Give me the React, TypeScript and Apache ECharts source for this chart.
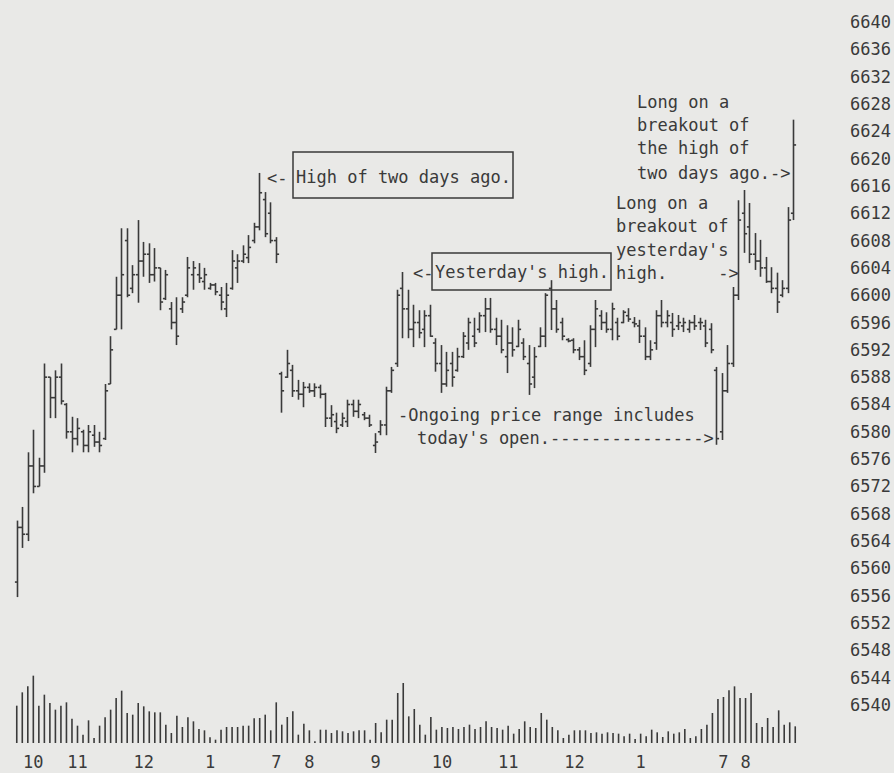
import React, { useEffect, useRef } from "react";
import * as echarts from "echarts";

// Five-minute bars, three sessions (day 1 partial, day 2, day 3 partial)
const highs = [
  6567.0, 6569.0, 6577.0, 6580.3, 6576.2, 6590.0, 6588.0, 6589.0, 6590.0, 6584.2,
  6582.2, 6582.0, 6580.3, 6581.0, 6581.0, 6580.0, 6587.0, 6594.0, 6602.7, 6609.8,
  6609.8, 6604.4, 6611.0, 6607.8, 6607.6, 6606.9, 6604.0, 6603.7, 6599.0, 6599.7,
  6599.7, 6605.6, 6605.0, 6604.7, 6604.0, 6601.8, 6601.8, 6601.2, 6601.8, 6606.6,
  6606.0, 6607.3, 6608.8, 6610.6, 6617.9, 6615.1, 6613.6, 6608.5,
  6588.8, 6592.0, 6589.8, 6587.6, 6587.3, 6587.1, 6587.1, 6586.9, 6585.7, 6583.9,
  6582.8, 6582.8, 6584.7, 6584.7, 6584.7, 6582.9, 6582.5, 6579.8, 6581.7, 6586.6,
  6589.5, 6600.8, 6603.4, 6600.8, 6598.6, 6597.8, 6597.8, 6598.6, 6593.7, 6592.7,
  6591.7, 6591.7, 6592.3, 6594.6, 6596.7, 6596.7, 6597.5, 6599.6, 6599.6, 6596.7,
  6596.4, 6595.6, 6595.3, 6596.4, 6593.7, 6592.7, 6592.4, 6595.3, 6600.3, 6602.2,
  6599.3, 6596.7, 6593.7, 6593.7, 6592.4, 6593.4, 6595.6, 6599.3, 6597.8, 6597.5,
  6598.9, 6596.7, 6597.8, 6598.1, 6596.8, 6596.4, 6595.3, 6593.4, 6597.8, 6599.3,
  6597.8, 6597.4, 6597.1, 6596.7, 6596.4, 6597.1, 6596.7, 6596.4, 6595.9,
  6589.5, 6588.6, 6592.7, 6601.2, 6613.9, 6615.4, 6613.5, 6609.1, 6608.1, 6605.6,
  6604.1, 6603.3, 6602.2, 6612.9, 6625.7,
];

const lows = [
  6555.8, 6563.0, 6564.0, 6571.0, 6572.0, 6574.0, 6582.0, 6582.0, 6584.0, 6579.0,
  6577.0, 6578.0, 6577.0, 6577.0, 6577.8, 6577.0, 6578.8, 6587.0, 6595.0, 6595.0,
  6599.7, 6600.3, 6598.9, 6602.7, 6601.8, 6602.0, 6597.8, 6599.3, 6595.0, 6592.7,
  6597.4, 6599.7, 6600.8, 6601.8, 6600.8, 6600.8, 6600.0, 6597.8, 6596.8, 6600.8,
  6601.8, 6604.7, 6604.7, 6607.6, 6609.5, 6608.5, 6607.6, 6604.7,
  6582.8, 6587.9, 6585.1, 6584.7, 6583.6, 6585.7, 6585.1, 6584.9, 6580.7, 6580.7,
  6579.8, 6580.7, 6580.7, 6582.2, 6582.0, 6581.7, 6580.7, 6576.9, 6579.5, 6579.5,
  6585.7, 6589.5, 6593.7, 6593.7, 6592.4, 6593.7, 6592.4, 6593.9, 6588.8, 6585.7,
  6586.6, 6586.6, 6588.8, 6590.8, 6592.0, 6592.4, 6594.5, 6594.6, 6594.5, 6592.7,
  6591.5, 6588.6, 6591.0, 6592.4, 6590.5, 6585.4, 6586.4, 6592.4, 6592.4, 6594.9,
  6594.5, 6593.4, 6593.1, 6591.5, 6590.5, 6588.3, 6589.5, 6592.4, 6594.9, 6594.5,
  6593.4, 6593.4, 6595.9, 6596.1, 6595.3, 6593.0, 6590.5, 6590.5, 6592.0, 6595.3,
  6595.3, 6593.9, 6594.9, 6594.6, 6594.5, 6594.9, 6594.9, 6592.4, 6591.5,
  6578.1, 6578.8, 6585.7, 6589.5, 6599.3, 6606.2, 6604.7, 6603.7, 6602.7, 6601.8,
  6600.3, 6597.4, 6599.7, 6600.3, 6611.0,
];

const opens = [
  6558, 6566, 6565, 6575, 6572, 6575, 6588, 6585, 6588, 6584,
  6580, 6579, 6580, 6578, 6579.5, 6578.5, 6579, 6587, 6595, 6600,
  6608, 6601, 6603, 6605, 6606, 6603, 6604, 6599.5, 6598, 6596,
  6598, 6600, 6603, 6603, 6602, 6601, 6601.5, 6600, 6598, 6601,
  6604, 6605, 6605.5, 6608, 6610, 6614, 6612, 6608,
  6588.5, 6588, 6589, 6586, 6585.5, 6586.5, 6586, 6586.5, 6585.5, 6582,
  6581.5, 6581, 6581.5, 6584, 6583, 6582.5, 6582, 6578, 6580, 6581,
  6586, 6590, 6601, 6598, 6595, 6596, 6595, 6597, 6593, 6590,
  6587, 6590, 6589, 6591, 6593, 6594, 6595, 6597, 6598, 6595,
  6594, 6591, 6593, 6592.5, 6593, 6590, 6588, 6592.5, 6594, 6601,
  6598, 6596, 6593.5, 6593.4, 6592, 6591, 6590, 6595, 6597, 6596,
  6595, 6596, 6596, 6597, 6596, 6595.5, 6594, 6591, 6593, 6597,
  6596, 6596, 6595.5, 6595.5, 6595, 6596, 6596, 6595.5, 6595,
  6589, 6580, 6586, 6590, 6600, 6612, 6610, 6606, 6605, 6604,
  6602, 6601, 6600, 6601, 6612,
];

const closes = [
  6566, 6565, 6575, 6572, 6575, 6588, 6585, 6588, 6584.5, 6580,
  6579, 6580.5, 6578, 6580, 6578.5, 6578, 6586, 6592, 6600, 6603,
  6600, 6603, 6605, 6606, 6603, 6604, 6599, 6603, 6596, 6594,
  6599, 6604, 6604, 6602.5, 6603, 6601.5, 6600.5, 6599, 6600, 6605,
  6605, 6606, 6607, 6610, 6615, 6609, 6608, 6606,
  6586, 6590, 6586, 6585.5, 6586.5, 6586, 6586.5, 6585.5, 6582, 6582.5,
  6580.5, 6582, 6584, 6583, 6584, 6582, 6581, 6578.5, 6581, 6586,
  6589, 6600, 6598, 6595, 6596, 6594.5, 6597, 6594, 6590, 6587,
  6589, 6588, 6591, 6594, 6596, 6593, 6597, 6598, 6595, 6594,
  6592, 6593, 6592, 6595, 6591, 6587, 6591, 6594, 6600, 6598,
  6595, 6594, 6593.3, 6592, 6591, 6589, 6595, 6598, 6596, 6595,
  6598, 6594, 6597.5, 6596.5, 6595.8, 6594, 6591, 6592, 6597, 6596,
  6597, 6595, 6596, 6596, 6596, 6595.5, 6596, 6593, 6592,
  6579, 6586, 6590, 6600, 6611, 6609, 6606, 6605, 6604, 6602,
  6601, 6599, 6601, 6611, 6622,
];

const volumes = [
  112, 152, 170, 202, 112, 145, 120, 100, 112, 122,
  73, 52, 25, 68, 15, 52, 77, 100, 135, 157,
  90, 85, 120, 110, 95, 92, 92, 55, 30, 82,
  48, 77, 65, 42, 38, 17, 10, 40, 48, 48,
  48, 52, 52, 74, 75, 85, 38, 122, 55, 78,
  95, 25, 58, 38, 5, 40, 40, 30, 38, 35,
  30, 35, 38, 38, 10, 60, 32, 70, 70, 150,
  180, 80, 102, 55, 25, 78, 40, 48, 45, 48,
  42, 48, 55, 42, 48, 65, 48, 45, 40, 52,
  28, 42, 65, 48, 45, 90, 70, 48, 38, 15,
  25, 38, 38, 38, 30, 32, 28, 32, 30, 28,
  20, 28, 12, 28, 20, 40, 32, 18, 35, 28,
  32, 42, 15, 20, 42, 55, 90, 132, 138, 158,
  170, 135, 135, 150, 60, 48, 75, 48, 98, 55,
  62, 50,
];

const hourTickIndex = [3, 11, 23, 35, 47, 53, 65, 77, 89, 101, 113, 128, 132];
const hourTickLabel = ["10", "11", "12", "1", "7", "8", "9", "10", "11", "12", "1", "7", "8"];

const priceMin = 6540;
const priceMax = 6640;
const priceStep = 4;

const FONT = '"DejaVu Sans Mono", "Liberation Mono", monospace';
const INK = "#3a3a3a";
const BG = "#e9e9e7";

export default function App() {
  const ref = useRef<HTMLDivElement>(null);

  useEffect(() => {
    if (!ref.current) return;
    const chart = echarts.init(ref.current, null, { renderer: "svg" });

    const categories = highs.map((_, i) => String(i));
    const ohlc = highs.map((h, i) => [i, opens[i], h, lows[i], closes[i]]);
    const tickMap: Record<number, string> = {};
    hourTickIndex.forEach((idx, k) => {
      tickMap[idx] = hourTickLabel[k];
    });

    const txt = (text: string, x: number, y: number) => ({
      type: "text",
      x,
      y,
      style: {
        text,
        font: `17px ${FONT}`,
        fill: INK,
        textAlign: "left",
        textVerticalAlign: "middle",
        align: "left",
        verticalAlign: "middle",
      },
      z: 10,
    });
    const box = (x: number, y: number, w: number, h: number) => ({
      type: "rect",
      shape: { x, y, width: w, height: h },
      style: { fill: "none", stroke: INK, lineWidth: 1.5 },
      z: 10,
    });

    chart.setOption({
      animation: false,
      backgroundColor: BG,
      grid: [
        { left: 14, width: 784, top: 22, height: 683 },
        { left: 14, width: 784, top: 673, height: 70 },
      ],
      xAxis: [
        {
          type: "category",
          gridIndex: 0,
          data: categories,
          boundaryGap: true,
          show: false,
        },
        {
          type: "category",
          gridIndex: 1,
          data: categories,
          boundaryGap: true,
          axisLine: { show: false },
          axisTick: { show: false },
          axisLabel: {
            interval: 0,
            margin: 10,
            fontFamily: FONT,
            fontSize: 17,
            color: INK,
            formatter: (_v: string, idx: number) => tickMap[idx] ?? "",
          },
        },
      ],
      yAxis: [
        {
          type: "value",
          gridIndex: 0,
          position: "right",
          min: priceMin,
          max: priceMax,
          interval: priceStep,
          axisLine: { show: false },
          axisTick: { show: false },
          splitLine: { show: false },
          axisLabel: {
            margin: 54,
            fontFamily: FONT,
            fontSize: 17,
            color: INK,
            formatter: (v: number) => String(v),
          },
        },
        {
          type: "value",
          gridIndex: 1,
          min: 0,
          max: 210,
          show: false,
          splitLine: { show: false },
        },
      ],
      series: [
        {
          type: "custom",
          xAxisIndex: 0,
          yAxisIndex: 0,
          data: ohlc,
          encode: { x: 0, y: [1, 2, 3, 4] },
          renderItem: (_params: any, api: any) => {
            const i = api.value(0);
            const o = api.coord([i, api.value(1)]);
            const h = api.coord([i, api.value(2)]);
            const l = api.coord([i, api.value(3)]);
            const c = api.coord([i, api.value(4)]);
            const x = Math.round(h[0]) + 0.5;
            const t = 2.6;
            const st = { stroke: INK, lineWidth: 1.6 };
            return {
              type: "group",
              children: [
                { type: "line", shape: { x1: x, y1: h[1], x2: x, y2: l[1] }, style: st },
                { type: "line", shape: { x1: x - t, y1: o[1], x2: x, y2: o[1] }, style: st },
                { type: "line", shape: { x1: x, y1: c[1], x2: x + t, y2: c[1] }, style: st },
              ],
            };
          },
        },
        {
          type: "bar",
          xAxisIndex: 1,
          yAxisIndex: 1,
          data: volumes,
          barWidth: 1.6,
          itemStyle: { color: INK },
        },
      ],
      graphic: [
        txt("<-", 267, 178),
        box(293, 152, 220, 46),
        txt("High of two days ago.", 296, 177),
        txt("<-", 413, 273),
        box(432, 253, 179, 37),
        txt("Yesterday's high.", 435, 272),
        txt("-Ongoing price range includes", 398, 415),
        txt("today's open.--------------->", 417, 438),
        txt("Long on a", 637, 102),
        txt("breakout of", 637, 125),
        txt("the high of", 637, 148),
        txt("two days ago.->", 637, 173),
        txt("Long on a", 616, 203),
        txt("breakout of", 616, 226),
        txt("yesterday's", 616, 250),
        txt("high.     ->", 616, 273),
      ],
    });

    return () => chart.dispose();
  }, []);

  return (
    <div
      ref={ref}
      style={{ position: "fixed", left: 0, top: 0, width: 894, height: 773 }}
    />
  );
}
